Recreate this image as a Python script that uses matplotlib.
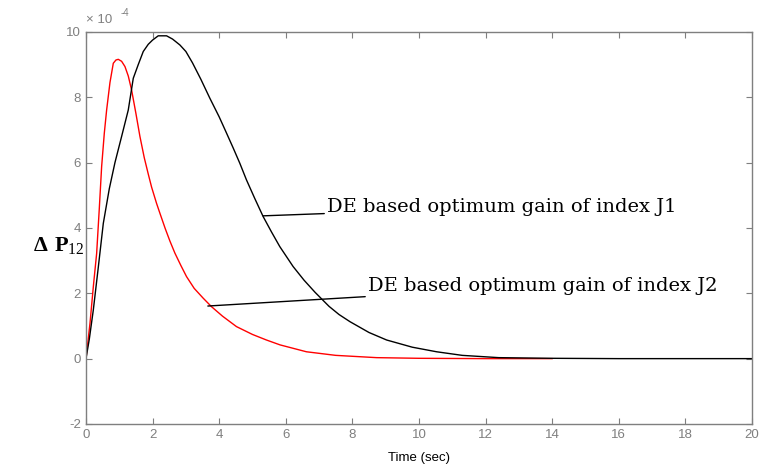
import matplotlib
matplotlib.use("Agg")
import matplotlib.pyplot as plt

plt.rcParams["axes.unicode_minus"] = False
plt.rcParams["mathtext.fontset"] = "custom"
plt.rcParams["mathtext.rm"] = "Liberation Serif"
plt.rcParams["mathtext.bf"] = "Liberation Serif:bold"

# Data (values in units of 1e-4)
t_j1 = [0, 0.1, 0.22, 0.37, 0.52, 0.7, 0.87, 1.07, 1.27, 1.42, 1.57, 1.72, 1.87, 2.0, 2.17,
        2.42, 2.6, 2.82, 3.0, 3.2, 3.45, 3.72, 4.0, 4.2, 4.42, 4.62, 4.82, 5.07, 5.32, 5.57,
        5.82, 6.22, 6.55, 6.88, 7.3, 7.6, 7.93, 8.5, 9.03, 9.8, 10.53, 11.3, 12.4, 14, 16, 18, 20]
y_j1 = [0, 0.6, 1.49, 2.8, 4.14, 5.2, 6.0, 6.8, 7.61, 8.58, 9.0, 9.4, 9.62, 9.75, 9.88,
        9.88, 9.78, 9.6, 9.4, 9.05, 8.55, 7.97, 7.4, 6.95, 6.45, 5.98, 5.47, 4.9, 4.35, 3.88,
        3.43, 2.82, 2.4, 2.03, 1.6, 1.35, 1.13, 0.8, 0.57, 0.35, 0.21, 0.1, 0.03, 0.01, 0, 0, 0]

t_j2 = [0, 0.12, 0.22, 0.32, 0.4, 0.47, 0.55, 0.62, 0.72, 0.82, 0.9, 0.97, 1.07, 1.17, 1.27,
        1.37, 1.5, 1.62, 1.75, 1.87, 1.97, 2.12, 2.22, 2.38, 2.52, 2.67, 2.85, 3.02, 3.25,
        3.52, 3.77, 4.1, 4.52, 5.0, 5.42, 5.83, 6.62, 7.5, 8.73, 10, 12, 14]
y_j2 = [0, 1.08, 2.2, 3.22, 4.6, 5.88, 6.9, 7.61, 8.45, 9.04, 9.14, 9.16, 9.1, 8.94, 8.65,
        8.22, 7.5, 6.8, 6.15, 5.65, 5.25, 4.75, 4.45, 3.98, 3.6, 3.23, 2.85, 2.51, 2.15,
        1.85, 1.59, 1.3, 0.98, 0.74, 0.57, 0.42, 0.21, 0.1, 0.03, 0.01, 0.0, 0.0]

x_ticks = list(range(0, 21, 2))
y_ticks = list(range(-2, 11, 2))

label_j1 = "DE based optimum gain of index J1"
label_j2 = "DE based optimum gain of index J2"

fig = plt.figure(figsize=(7.61, 4.69), dpi=100)
ax = fig.add_axes([0.113, 0.096, 0.875, 0.836])

ax.plot(t_j2, y_j2, color="#ff0000", lw=1.0)
ax.plot(t_j1, y_j1, color="#000000", lw=1.0)

ax.set_xlim(0, 20)
ax.set_ylim(-2, 10)
ax.set_xticks(x_ticks)
ax.set_yticks(y_ticks)

gray = "#7f7f7f"
for s in ax.spines.values():
    s.set_color(gray)
    s.set_linewidth(1.0)
ax.tick_params(direction="in", top=True, right=True, length=4, color=gray,
               labelcolor=gray, labelsize=9.5)
for lbl in ax.get_xticklabels() + ax.get_yticklabels():
    lbl.set_family("Liberation Sans")

ax.set_xlabel("Time (sec)", fontsize=9.5, family="Liberation Sans", labelpad=8)
fig.text(0.077, 0.475, r"$\mathbf{\Delta\ P}_{\mathrm{12}}$",
         fontsize=16, ha="center", va="center")
fig.text(0.113, 0.945, "\u00d7 10", fontsize=9.5, color=gray, ha="left", va="bottom",
         family="Liberation Sans")
fig.text(0.158, 0.962, "-4", fontsize=7, color=gray, ha="left", va="bottom",
         family="Liberation Sans")

ax.annotate(label_j1, xy=(5.32, 4.37), xytext=(7.24, 4.64), fontsize=14,
            family="DejaVu Serif", va="center", ha="left",
            arrowprops=dict(arrowstyle="-", color="black", lw=1.0, shrinkA=0, shrinkB=0))
ax.annotate(label_j2, xy=(3.66, 1.61), xytext=(8.47, 2.22), fontsize=14,
            family="DejaVu Serif", va="center", ha="left",
            arrowprops=dict(arrowstyle="-", color="black", lw=1.0, shrinkA=0, shrinkB=0))

fig.savefig("out.png", dpi=100)
